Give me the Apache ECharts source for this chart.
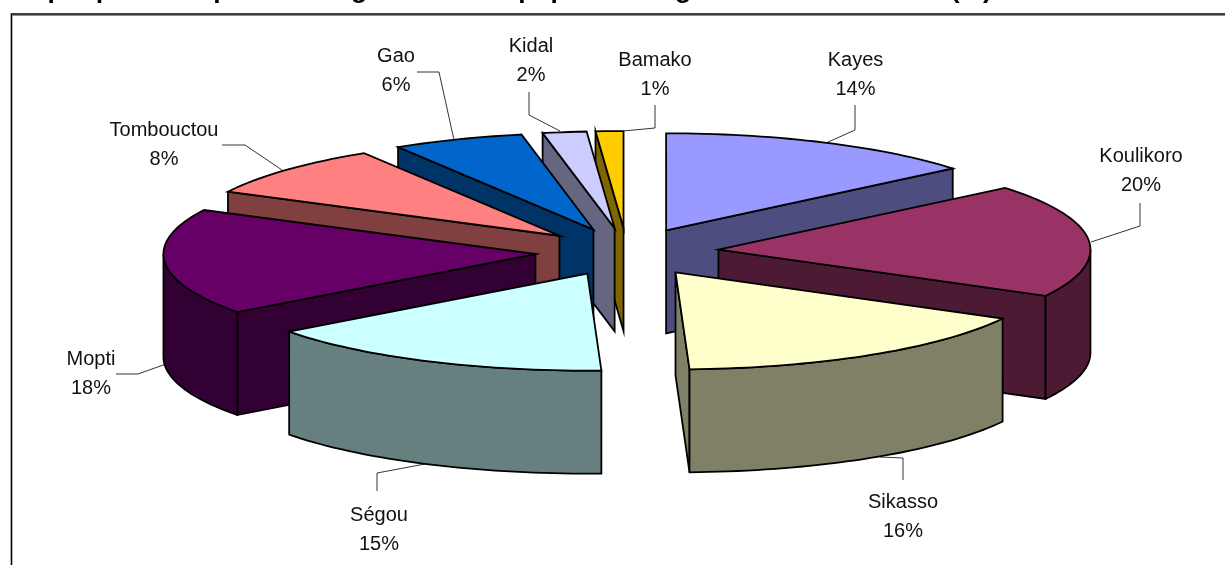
<!DOCTYPE html>
<html><head><meta charset="utf-8">
<style>html,body{margin:0;padding:0;background:#fff;overflow:hidden}#c{width:1225px;height:565px}</style>
<script src="https://cdn.jsdelivr.net/npm/echarts@6/dist/echarts.min.js"></script>
</head><body><div id="c"></div>
<script>
const categories = ['Kayes','Koulikoro','Sikasso','Ségou','Mopti','Tombouctou','Gao','Kidal','Bamako'];
const sliceShares = [14.0,18.9,16.5,15.4,17.7,8.7,5.7,1.9,1.2];
const percentLabels = ['14%','20%','16%','15%','18%','8%','6%','2%','1%'];
const topColors = ['#9999FF','#993366','#FFFFCC','#CCFFFF','#660066','#FF8080','#0066CC','#CCCCFF','#FFCC00'];
const sideColors = ['#4D4D80','#4D1A33','#808066','#668080','#330033','#804040','#003366','#666680','#806600'];
const titleText = 'Graphique 1 : Répartition régionale de la population agricole totale en 2004 (%)';

// layout of the tilted pie
const CX = 627, CY = 252, RX = 372, RY = 97, DEPTH = 103, EXPLODE = 0.247;
const labelPos = [[855.5,74.5],[1141,170.5],[903,516.5],[379,529.5],[91,373.5],[164,144.5],[396,70.5],[531,60.5],[655,74.5]];
const leaders = [
  [[826,143],[855,130],[855,105]],
  [[1091,242],[1140,226],[1140,203]],
  [[880,457],[903,458],[903,480]],
  [[425,464],[377,473],[377,491]],
  [[166,364],[138,374],[116,374]],
  [[282,170],[245,145],[222,145]],
  [[454,140],[439,72],[417,72]],
  [[560,131],[529,115],[529,92]],
  [[623,131],[655,128],[655,105]]
];
const total = sliceShares.reduce((a,b)=>a+b,0);
const starts = []; sliceShares.reduce((acc,v,i)=>{starts[i]=acc;return acc+v*360/total;},0);
const rad = d => d*Math.PI/180;

function renderSlice(params, api){
  const i = params.dataIndex;
  const s = starts[i], e = s + api.value(0)*360/total, m = (s+e)/2;
  const ax = CX + EXPLODE*RX*Math.sin(rad(m)), ay = CY - EXPLODE*RY*Math.cos(rad(m));
  const pt = (d,dz) => [ax + RX*Math.sin(rad(d)), ay - RY*Math.cos(rad(d)) + (dz||0)];
  const arc = (a,b,dz) => { const n = Math.max(2,Math.ceil((b-a)/1.5)), o=[]; for(let k=0;k<=n;k++) o.push(pt(a+(b-a)*k/n,dz)); return o; };
  const base = Math.round((1-Math.cos(rad(m)))*100)*10;
  const st = (fill)=>({fill, stroke:'#000', lineWidth:1.8, lineJoin:'miter'});
  const kids = [];
  const wall = (d)=>kids.push({type:'polygon',z2:base+1,shape:{points:[[ax,ay],pt(d),pt(d,DEPTH),[ax,ay+DEPTH]]},style:st(sideColors[i])});
  if(Math.sin(rad(s))<-0.001) wall(s);
  if(Math.sin(rad(e))>0.001) wall(e);
  const oa=Math.max(s,90), ob=Math.min(e,270);
  if(ob>oa) kids.push({type:'polygon',z2:base+2,shape:{points:arc(oa,ob,0).concat(arc(oa,ob,DEPTH).reverse())},style:st(sideColors[i])});
  kids.push({type:'polygon',z2:base+3,shape:{points:[[ax,ay]].concat(arc(s,e,0))},style:st(topColors[i])});
  kids.push({type:'polyline',z2:4000,shape:{points:leaders[i]},style:{fill:null,stroke:'#000',lineWidth:0.8}});
  kids.push({type:'text',z2:4001,x:labelPos[i][0],y:labelPos[i][1],style:{
    text:categories[i]+'\n'+percentLabels[i],fill:'#111',font:'20px "Liberation Sans", Arial, sans-serif',
    align:'center',verticalAlign:'middle',lineHeight:29}});
  return {type:'group',children:kids};
}

const chart = echarts.init(document.getElementById('c'),null,{renderer:'canvas'});
chart.setOption({
  animation:false,
  backgroundColor:'#fff',
  title:{text:titleText,left:2,top:-25,padding:0,textStyle:{fontFamily:'"Liberation Sans", Arial, sans-serif',fontWeight:'bold',fontSize:26.4,color:'#000',lineHeight:31}},
  graphic:[
    {type:'rect',silent:true,z:-2,shape:{x:11.5,y:14,width:1300,height:700},style:{fill:'#fff',stroke:'#000',lineWidth:1.6}},
    {type:'line',silent:true,z:-1,shape:{x1:12.5,y1:15.5,x2:1225,y2:15.5},style:{stroke:'#8a8a8a',lineWidth:1.2}}
  ],
  series:[{type:'custom',coordinateSystem:'none',renderItem:renderSlice,clip:false,silent:true,
    data:sliceShares.map((v,i)=>({name:categories[i],value:[v]}))}]
});
</script></body></html>
